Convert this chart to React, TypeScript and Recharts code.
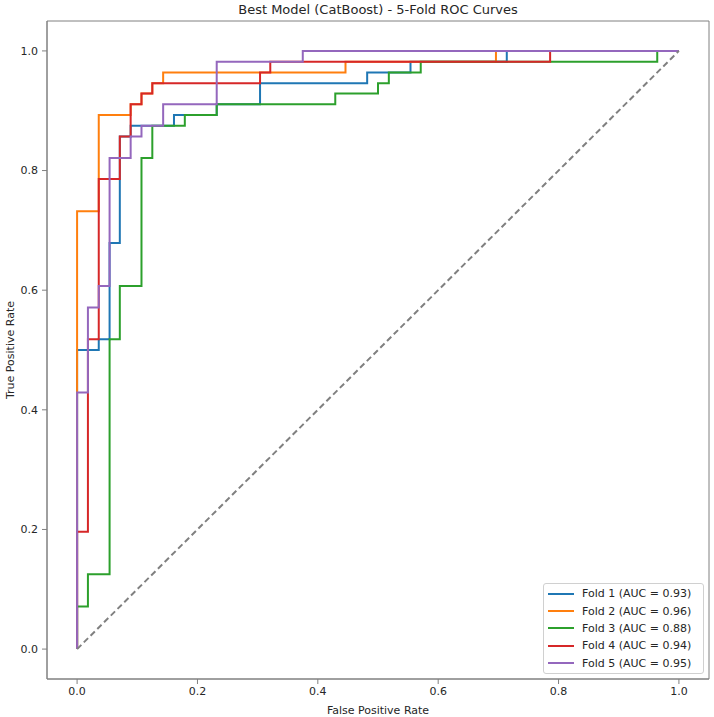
import React from 'react';
import {
  LineChart,
  Line,
  XAxis,
  YAxis,
  ReferenceArea,
} from 'recharts';

// step points (fpr / tpr per fold)
const fold1Fpr = [0, 0, 0.036, 0.036, 0.054, 0.054, 0.071, 0.071, 0.089, 0.089, 0.161, 0.161, 0.232, 0.232, 0.304, 0.304, 0.482, 0.482, 0.554, 0.554, 0.714, 0.714, 1];
const fold1Tpr = [0, 0.5, 0.5, 0.518, 0.518, 0.679, 0.679, 0.857, 0.857, 0.875, 0.875, 0.893, 0.893, 0.911, 0.911, 0.946, 0.946, 0.964, 0.964, 0.982, 0.982, 1, 1];

const fold2Fpr = [0, 0, 0.036, 0.036, 0.089, 0.089, 0.107, 0.107, 0.125, 0.125, 0.143, 0.143, 0.446, 0.446, 0.696, 0.696, 1];
const fold2Tpr = [0, 0.732, 0.732, 0.893, 0.893, 0.911, 0.911, 0.929, 0.929, 0.946, 0.946, 0.964, 0.964, 0.982, 0.982, 1, 1];

const fold3Fpr = [0, 0, 0.018, 0.018, 0.054, 0.054, 0.071, 0.071, 0.107, 0.107, 0.125, 0.125, 0.179, 0.179, 0.232, 0.232, 0.429, 0.429, 0.5, 0.5, 0.518, 0.518, 0.571, 0.571, 0.964, 0.964, 1];
const fold3Tpr = [0, 0.071, 0.071, 0.125, 0.125, 0.518, 0.518, 0.607, 0.607, 0.821, 0.821, 0.875, 0.875, 0.893, 0.893, 0.911, 0.911, 0.929, 0.929, 0.946, 0.946, 0.964, 0.964, 0.982, 0.982, 1, 1];

const fold4Fpr = [0, 0, 0.018, 0.018, 0.036, 0.036, 0.071, 0.071, 0.089, 0.089, 0.107, 0.107, 0.125, 0.125, 0.304, 0.304, 0.321, 0.321, 0.786, 0.786, 1];
const fold4Tpr = [0, 0.196, 0.196, 0.518, 0.518, 0.786, 0.786, 0.857, 0.857, 0.911, 0.911, 0.929, 0.929, 0.946, 0.946, 0.964, 0.964, 0.982, 0.982, 1, 1];

const fold5Fpr = [0, 0, 0.018, 0.018, 0.036, 0.036, 0.054, 0.054, 0.089, 0.089, 0.107, 0.107, 0.143, 0.143, 0.232, 0.232, 0.375, 0.375, 1];
const fold5Tpr = [0, 0.429, 0.429, 0.571, 0.571, 0.607, 0.607, 0.821, 0.821, 0.857, 0.857, 0.875, 0.875, 0.911, 0.911, 0.982, 0.982, 1, 1];

const diagFpr = [0, 1];
const diagTpr = [0, 1];

const foldNames = ['Fold 1', 'Fold 2', 'Fold 3', 'Fold 4', 'Fold 5'];
const aucValues = [0.93, 0.96, 0.88, 0.94, 0.95];
const colors = ['#1f77b4', '#ff7f0e', '#2ca02c', '#d62728', '#9467bd'];
const ticks = [0, 0.2, 0.4, 0.6, 0.8, 1.0];

const zip = (xs: number[], ys: number[]) => xs.map((x, i) => ({ x, y: ys[i] }));

const folds = [
  zip(fold1Fpr, fold1Tpr),
  zip(fold2Fpr, fold2Tpr),
  zip(fold3Fpr, fold3Tpr),
  zip(fold4Fpr, fold4Tpr),
  zip(fold5Fpr, fold5Tpr),
];
const diagonal = zip(diagFpr, diagTpr);

const FONT = '"DejaVu Sans", sans-serif';
const AXIS_GRAY = '#808080';
const TEXT = '#262626';

const YLabel = (props: any) => {
  const vb = props.viewBox || { x: 0, y: 0, height: 0 };
  const cy = vb.y + vb.height / 2;
  return (
    <text
      x={10}
      y={cy}
      transform={`rotate(-90, 10, ${cy})`}
      textAnchor="middle"
      dominantBaseline="central"
      fontSize={11}
      fontFamily={FONT}
      fill={TEXT}
    >
      True Positive Rate
    </text>
  );
};

// legend drawn as an overlay so it doesn't eat into the plot area
const LegendBox = () => (
  <div
    style={{
      position: 'absolute',
      left: 543,
      top: 583,
      width: 161,
      height: 91,
      border: '1px solid #d0d0d0',
      borderRadius: 3,
      background: 'rgba(255,255,255,0.8)',
      fontFamily: FONT,
      fontSize: 11,
      color: TEXT,
      boxSizing: 'border-box',
      paddingTop: 1,
    }}
  >
    {foldNames.map((name, i) => (
      <div key={name} style={{ display: 'flex', alignItems: 'center', height: 17.4 }}>
        <div style={{ width: 26, height: 2, background: colors[i], marginLeft: 4, marginRight: 8 }} />
        <span style={{ whiteSpace: 'nowrap' }}>{`${name} (AUC = ${aucValues[i].toFixed(2)})`}</span>
      </div>
    ))}
  </div>
);

const App = () => {
  return (
    <div style={{ position: 'absolute', left: 0, top: 0, width: 714, height: 717, background: '#fff' }}>
      <div
        style={{
          position: 'absolute',
          left: 47,
          width: 662,
          top: 2,
          textAlign: 'center',
          fontFamily: FONT,
          fontSize: 13,
          color: TEXT,
          lineHeight: '16px',
        }}
      >
        Best Model (CatBoost) - 5-Fold ROC Curves
      </div>
      <LineChart width={714} height={717} margin={{ top: 21, right: 5, bottom: 0, left: 0 }}>
        <XAxis
          type="number"
          dataKey="x"
          domain={[-0.05, 1.05]}
          ticks={ticks}
          allowDataOverflow
          height={38}
          tickSize={5}
          tickMargin={3}
          tickFormatter={(v: number) => v.toFixed(1)}
          stroke={AXIS_GRAY}
          tick={{ fill: TEXT, fontSize: 11, fontFamily: FONT }}
          label={{
            value: 'False Positive Rate',
            position: 'insideBottom',
            offset: 3,
            fill: TEXT,
            fontSize: 11,
            fontFamily: FONT,
          }}
        />
        <YAxis
          type="number"
          dataKey="y"
          domain={[-0.05, 1.05]}
          ticks={ticks}
          allowDataOverflow
          width={47}
          tickSize={5}
          tickMargin={4}
          tickFormatter={(v: number) => v.toFixed(1)}
          stroke={AXIS_GRAY}
          tick={{ fill: TEXT, fontSize: 11, fontFamily: FONT }}
          label={<YLabel />}
        />
        <ReferenceArea x1={-0.05} x2={1.05} y1={-0.05} y2={1.05} fill="none" stroke={AXIS_GRAY} strokeWidth={1} />
        {folds.map((d, i) => (
          <Line
            key={foldNames[i]}
            data={d}
            dataKey="y"
            type="linear"
            stroke={colors[i]}
            strokeWidth={2}
            dot={false}
            activeDot={false}
            isAnimationActive={false}
          />
        ))}
        <Line
          data={diagonal}
          dataKey="y"
          type="linear"
          stroke="#808080"
          strokeWidth={2}
          strokeDasharray="6 3.5"
          dot={false}
          activeDot={false}
          isAnimationActive={false}
        />
      </LineChart>
      <LegendBox />
    </div>
  );
};

export default App;
